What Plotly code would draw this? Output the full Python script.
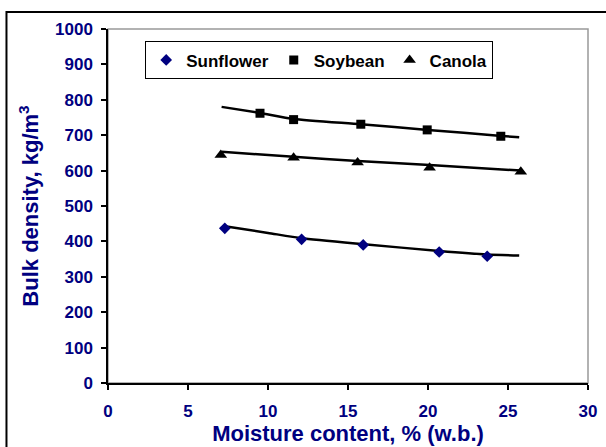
import plotly.graph_objects as go

# Measured data (moisture content % w.b., bulk density kg/m3)
sunflower_x = [7.3, 12.1, 15.95, 20.7, 23.7]
sunflower_y = [437, 406, 390, 370, 358]
soybean_x = [9.5, 11.6, 15.8, 19.95, 24.55]
soybean_y = [762, 744, 731, 715, 697]
canola_x = [7.05, 11.6, 15.6, 20.1, 25.8]
canola_y = [644, 636, 623, 608, 597]

# Trend lines
sun_trend_x = [7.3, 10.0, 12.1, 16.0, 20.7, 23.7, 25.7]
sun_trend_y = [443, 424, 409, 392, 373, 363, 360]
soy_trend_x = [7.1, 9.5, 11.6, 15.8, 20.0, 24.6, 25.7]
soy_trend_y = [780, 763, 746, 731, 715, 698, 694]
can_trend_x = [7.1, 11.6, 15.6, 20.1, 25.8]
can_trend_y = [653, 639, 627, 616, 600]

NAVY = "#000080"
FONT = "Liberation Sans, Arial, sans-serif"

fig = go.Figure()

for tx, ty in [(sun_trend_x, sun_trend_y), (soy_trend_x, soy_trend_y), (can_trend_x, can_trend_y)]:
    fig.add_trace(go.Scatter(x=tx, y=ty, mode="lines", showlegend=False, hoverinfo="skip",
                             line=dict(color="black", width=2.5, shape="spline", smoothing=0.6)))

fig.add_trace(go.Scatter(x=sunflower_x, y=sunflower_y, mode="markers", name="Sunflower",
                         marker=dict(symbol="diamond", size=9, color=NAVY)))
fig.add_trace(go.Scatter(x=soybean_x, y=soybean_y, mode="markers", name="Soybean",
                         marker=dict(symbol="square", size=9, color="black")))
fig.add_trace(go.Scatter(x=canola_x, y=canola_y, mode="markers", name="Canola",
                         marker=dict(symbol="triangle-up", size=11, color="black")))

axis_common = dict(showgrid=False, zeroline=False, showline=True, linecolor="black", linewidth=1.5,
                   ticks="outside", ticklen=5, tickcolor="black", tickwidth=1.5,
                   tickfont=dict(family=FONT, size=17, color=NAVY, weight="bold"))

fig.update_xaxes(range=[0, 30], dtick=5, ticklabelstandoff=7, **axis_common,
                 title=dict(text="<b>Moisture content, % (w.b.)</b>",
                            font=dict(family=FONT, size=22, color=NAVY), standoff=2))
fig.update_yaxes(range=[0, 1000], dtick=100, ticklabelstandoff=5, **axis_common,
                 title=dict(text="<b>Bulk density, kg/m<sup>3</sup></b>",
                            font=dict(family=FONT, size=22, color=NAVY), standoff=10))

fig.update_layout(
    width=606, height=447,
    margin=dict(l=108, r=18, t=29, b=64, autoexpand=False),
    paper_bgcolor="white", plot_bgcolor="white",
    hovermode=False,
    legend=dict(orientation="h", x=0.44, y=0.965, xanchor="center", yanchor="top",
                bordercolor="black", borderwidth=1, bgcolor="white",
                font=dict(family=FONT, size=17, color="black", weight="bold"),
                itemwidth=30, tracegroupgap=0),
    shapes=[
        dict(type="rect", xref="paper", yref="paper", x0=0, x1=1, y0=0, y1=1,
             line=dict(color="#999999", width=1.5), layer="below"),
        dict(type="rect", xref="paper", yref="paper", x0=-0.2115, x1=1.2, y0=-0.3, y1=1.048,
             line=dict(color="black", width=2), layer="below"),
    ],
)

fig.write_html("out.html", config={"displayModeBar": False},
               post_script="document.body.style.margin='0';")
